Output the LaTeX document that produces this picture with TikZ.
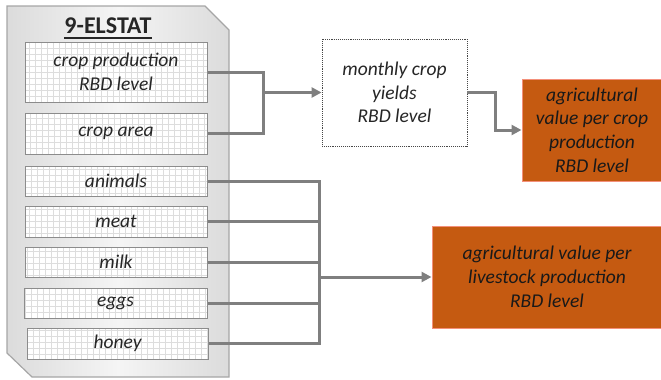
\documentclass[tikz,border=0pt]{standalone}
\usepackage{fontspec}
\setmainfont{Carlito}
\usetikzlibrary{arrows.meta}
\definecolor{conn}{HTML}{7F7F7F}
\definecolor{gridc}{HTML}{DDDDDD}
\definecolor{boxb}{HTML}{8C8C8C}
\definecolor{outb}{HTML}{A6A6A6}
\definecolor{orng}{HTML}{C55A11}
\definecolor{orngb}{HTML}{F4907A}
\definecolor{txt}{HTML}{262626}
\tikzset{
  x=1pt, y=-1pt,
  srcbox/.style={draw=boxb, line width=1pt, fill=white, minimum width=182pt,
    inner sep=0pt, align=center, font=\fontsize{19.5}{23.5}\selectfont\itshape, text=txt,
    path picture={\draw[gridc, line width=0.5pt, step=6pt]
      (path picture bounding box.south west) grid (path picture bounding box.north east);}},
  midbox/.style={draw=txt!85, densely dotted, line width=0.9pt, fill=white,
    inner sep=0pt, align=center, font=\fontsize{19.5}{23.5}\selectfont\itshape, text=txt},
  outbox/.style={draw=orngb, line width=1pt, fill=orng,
    inner sep=0pt, align=center, font=\fontsize{19.5}{23.8}\selectfont\itshape, text=black!90},
  link/.style={conn, line width=3pt},
  arr/.style={link, -{Triangle[length=10pt,width=10pt]}},
}
\begin{document}
\begin{tikzpicture}
\useasboundingbox (0,0) rectangle (661,380);
% outer container
\path[draw=outb, line width=1.2pt, left color=gray!28, right color=gray!28, middle color=gray!8]
  (7,6) -- (205,6) -- (229,30) -- (229,377) -- (32,377) -- (7,353) -- cycle;
\node[font=\fontsize{24}{26}\selectfont\bfseries, text=txt, inner sep=0pt] (title) at (108,26) {9-ELSTAT};
\draw[txt, line width=1.8pt] ([yshift=-4pt]title.base west) -- ([yshift=-4pt]title.base east);
% source boxes
\node[srcbox, minimum height=60pt] (cp) at (116,72) {crop production\\RBD level};
\node[srcbox, minimum height=41pt] (ca) at (116,133.5) {crop area};
\node[srcbox, minimum height=30pt] (an) at (116,181) {animals};
\node[srcbox, minimum height=31pt] (me) at (116,221.5) {meat};
\node[srcbox, minimum height=30pt] (mi) at (116,262) {milk};
\node[srcbox, minimum height=30pt, minimum width=183pt] (eg) at (115.5,303) {eggs};
\node[srcbox, minimum height=31pt, minimum width=181pt] (ho) at (117.5,343.5) {honey};
% middle and outputs
\node[midbox, minimum width=145pt, minimum height=107pt] (mon) at (394.5,92.5) {monthly crop\\yields\\RBD level};
\node[outbox, minimum width=140pt, minimum height=102pt] (ag1) at (592,130) {agricultural\\value per crop\\production\\RBD level};
\node[outbox, minimum width=230pt, minimum height=102pt] (ag2) at (547,277) {agricultural value per\\livestock production\\RBD level};
% junctions
\coordinate (j1) at (263,92.5);
\coordinate (j2) at (495,130);
\coordinate (j3) at (319,277);
% crop connectors
\draw[link] (cp.east) -| (j1) |- (ca.east);
\draw[arr] (j1) -- (mon.west);
\draw[arr] (mon.east) -| (j2) -- (ag1.west);
% livestock connectors
\draw[link] (an.east) -| (j3) |- (ho.east);
\draw[link] (me.east) -- (me.east -| j3);
\draw[link] (mi.east) -- (mi.east -| j3);
\draw[link] (eg.east) -- (eg.east -| j3);
\draw[arr] (j3) -- (ag2.west);
\end{tikzpicture}
\end{document}
